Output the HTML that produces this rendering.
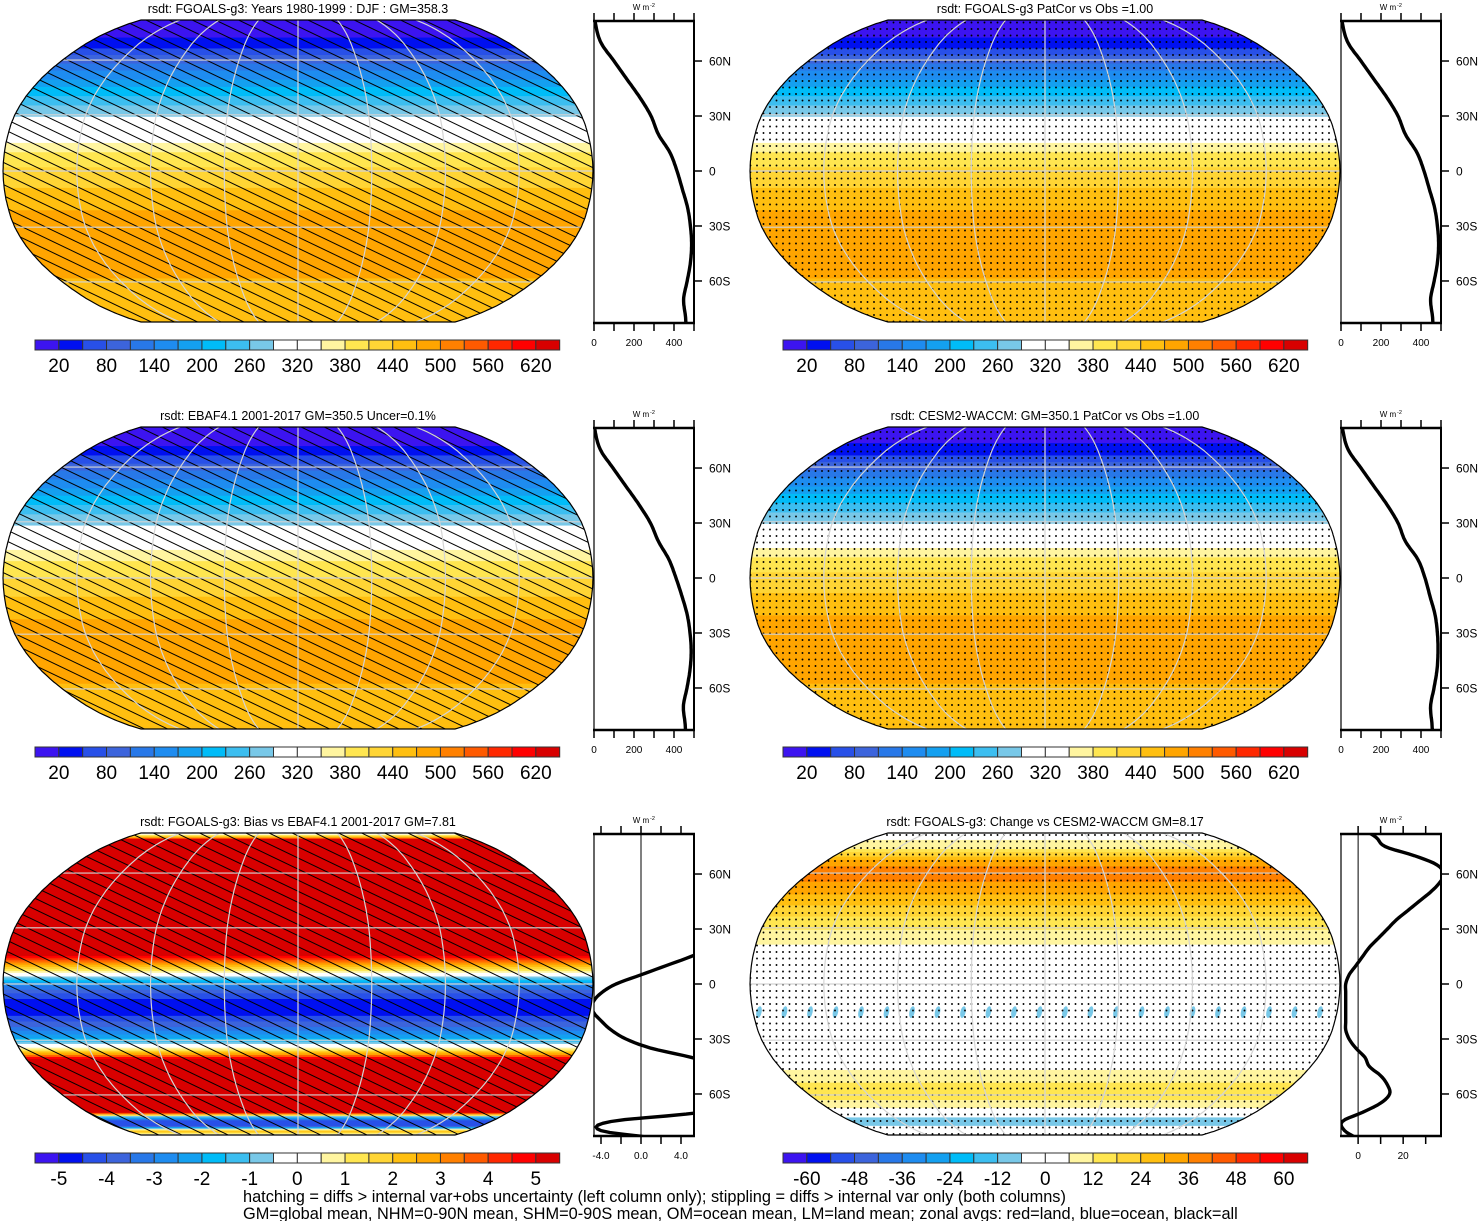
<!DOCTYPE html>
<html><head><meta charset="utf-8"><style>
html,body{margin:0;padding:0;background:#fff;}
svg{display:block;font-family:"Liberation Sans",sans-serif;}
</style></head><body>
<svg id="fig" width="1483" height="1221" viewBox="0 0 1483 1221" xmlns="http://www.w3.org/2000/svg">
<defs>
<pattern id="hatch" patternUnits="userSpaceOnUse" width="40" height="10" patternTransform="rotate(25.6)">
<line x1="0" y1="5" x2="40" y2="5" stroke="#000" stroke-width="1"/>
</pattern>
<pattern id="stip" patternUnits="userSpaceOnUse" width="6.5" height="6.5">
<circle cx="3" cy="3" r="0.95" fill="#000"/>
</pattern>
</defs>
<text x="243" y="1202" font-size="16.35">hatching = diffs &gt; internal var+obs uncertainty (left column only); stippling = diffs &gt; internal var only (both columns)</text>
<text x="243" y="1219" font-size="16.35">GM=global mean, NHM=0-90N mean, SHM=0-90S mean, OM=ocean mean, LM=land mean; zonal avgs: red=land, blue=ocean, black=all</text>
</svg>
<script>
// ---- data ----
const lat10 = [90,80,70,60,50,40,30,20,10,0,-10,-20,-30,-40,-50,-60,-70,-80,-90];
const lat5 = [90,85,80,75,70,65,60,55,50,45,40,35,30,25,20,15,10,5,0,-5,-10,-15,-20,-25,-30,-35,-40,-45,-50,-55,-60,-65,-70,-75,-80,-85,-90];
const fgoalsClim = [0,8,35,100,165,230,285,322,380,415,442,468,482,488,482,466,448,458,462];
const ebafClim   = [0,6,32,95,160,225,282,322,375,410,440,466,480,486,480,465,447,456,460];
const cesmClim   = [0,10,36,100,165,230,285,322,385,420,445,470,482,485,480,465,448,455,460];
const biasVals   = [0,2,8,8,8,8,8,8,8,8,8,8,8,8,7,5,2.5,0,-2.5,-4,-4.8,-4.8,-4,-3,-1.5,1,5,8,8,8,8,8,6,-3,-4,2,0];
const changeVals = [0,2,8,12,25,35,38,36,32,27,22,17,13,9,5,2,-1,-4,-5.5,-5.5,-5.5,-5.5,-5.5,-5.5,-4,-1,3,5,10,13,14,10,2,-7,-6,0,0];
const climLevels = [20,50,80,110,140,170,200,230,260,290,320,350,380,410,440,470,500,530,560,590,620];
const biasLevels = [-5,-4.5,-4,-3.5,-3,-2.5,-2,-1.5,-1,-0.5,0,0.5,1,1.5,2,2.5,3,3.5,4,4.5,5];
const changeLevels = [-60,-54,-48,-42,-36,-30,-24,-18,-12,-6,0,6,12,18,24,30,36,42,48,54,60];
const climLabels = ["20","80","140","200","260","320","380","440","500","560","620"];
const biasLabels = ["-5","-4","-3","-2","-1","0","1","2","3","4","5"];
const changeLabels = ["-60","-48","-36","-24","-12","0","12","24","36","48","60"];
const climTicks = [0,100,200,300,400,500];
const climTickLabels = [0,200,400];
const biasTicks = [-4,-2,0,2,4];
const biasTickLabels = ["-4.0","0.0","4.0"];
const changeTicks = [0,10,20,30];
const changeTickLabels = [0,20];
const latTicks = [60,30,0,-30,-60];
const latTickLabels = ["60N","30N","0","30S","60S"];
const titles = [
 "rsdt: FGOALS-g3: Years 1980-1999 : DJF : GM=358.3",
 "rsdt: FGOALS-g3 PatCor vs Obs =1.00",
 "rsdt: EBAF4.1 2001-2017 GM=350.5 Uncer=0.1%",
 "rsdt: CESM2-WACCM: GM=350.1 PatCor vs Obs =1.00",
 "rsdt: FGOALS-g3: Bias vs EBAF4.1 2001-2017 GM=7.81",
 "rsdt: FGOALS-g3: Change vs CESM2-WACCM GM=8.17"];
const colors = ["#3c14f0","#0010f0","#2850e8","#3c64dc","#2878e8","#1e8cf0","#14a0f0","#00bcf8","#3cbef0","#78c8e8","#ffffff","#ffffff","#fff5a0","#ffe650","#ffd535","#ffbf10","#ffa500","#ff8000","#ff5a00","#ff2800","#ff0000","#d80000"];

const NS="http://www.w3.org/2000/svg";
const svg=document.getElementById('fig');
function mk(tag,attrs,parent){const e=document.createElementNS(NS,tag);for(const k in attrs)e.setAttribute(k,attrs[k]);(parent||svg).appendChild(e);return e;}
function interp(xs,ys,x){
  const n=xs.length;
  for(let i=0;i<n-1;i++){
    if(x<=xs[i]&&x>=xs[i+1]){
      const t=(xs[i]-x)/(xs[i]-xs[i+1]);
      const p0=ys[Math.max(i-1,0)],p1=ys[i],p2=ys[i+1],p3=ys[Math.min(i+2,n-1)];
      const t2=t*t,t3=t2*t;
      return 0.5*((2*p1)+(-p0+p2)*t+(2*p0-5*p1+4*p2-p3)*t2+(-p0+3*p1-3*p2+p3)*t3);
    }
  }
  return ys[n-1];
}
const robX=[1,.9986,.9954,.99,.9822,.973,.96,.9427,.9216,.8962,.8679,.835,.7986,.7597,.7186,.6732,.6213,.5722,.5322];
const robY=[0,.062,.124,.186,.248,.310,.372,.434,.4958,.5571,.6176,.6769,.7346,.7903,.8435,.8936,.9394,.9761,1];
function tab(arr,lat){const a=Math.min(Math.abs(lat),90);const i=Math.min(Math.floor(a/5),17);const t=(a-i*5)/5;return arr[i]+(arr[i+1]-arr[i])*t;}
function hw(lat){return 295*tab(robX,lat);}
function yoff(lat){const v=151*tab(robY,lat);return lat>=0?-v:v;}
function colorFor(v,levels){let k=0;for(const l of levels){if(v>=l)k++;}return colors[k];}

const panels=[
 {col:0,row:0,lats:lat10,vals:fgoalsClim,levels:climLevels,labels:climLabels,ov:'hatch',dom:[0,500],ticks:climTicks,tl:climTickLabels,zero:false},
 {col:1,row:0,lats:lat10,vals:fgoalsClim,levels:climLevels,labels:climLabels,ov:'stip',dom:[0,500],ticks:climTicks,tl:climTickLabels,zero:false},
 {col:0,row:1,lats:lat10,vals:ebafClim,levels:climLevels,labels:climLabels,ov:'hatch',dom:[0,500],ticks:climTicks,tl:climTickLabels,zero:false},
 {col:1,row:1,lats:lat10,vals:cesmClim,levels:climLevels,labels:climLabels,ov:'stip',dom:[0,500],ticks:climTicks,tl:climTickLabels,zero:false},
 {col:0,row:2,lats:lat5,vals:biasVals,levels:biasLevels,labels:biasLabels,ov:'hatch',dom:[-4.7,5.3],ticks:biasTicks,tl:biasTickLabels,zero:true},
 {col:1,row:2,lats:lat5,vals:changeVals,levels:changeLevels,labels:changeLabels,ov:'stip',dom:[-7.6,36.8],ticks:changeTicks,tl:changeTickLabels,zero:true,spots:true}];
const rowTop=[20,427,833];

panels.forEach((p,pi)=>{
  const cx=298+p.col*747, top=rowTop[p.row], eq=top+151;
  const g=mk('g',{});
  
  
  const t=mk('text',{x:cx,y:top-7,'font-size':12.5,'text-anchor':'middle'},g);
  t.textContent=titles[pi];
  
  
  let d='';
  for(let la=90;la>=-90;la-=1){d+=(la===90?'M':'L')+(cx+hw(la)).toFixed(1)+','+(eq+yoff(la)).toFixed(1);}
  for(let la=-90;la<=90;la+=1){d+='L'+(cx-hw(la)).toFixed(1)+','+(eq+yoff(la)).toFixed(1);}
  d+='Z';
  const cp=mk('clipPath',{id:'clip'+pi},g); mk('path',{d:d},cp);
  const mg=mk('g',{'clip-path':'url(#clip'+pi+')'},g);
  
  
  for(let la=90;la>-90;la-=1){
    const v=interp(p.lats,p.vals,la-0.5);
    const y1=eq+yoff(la), y2=eq+yoff(la-1);
    mk('rect',{x:cx-300,y:y1.toFixed(2),width:600,height:(y2-y1+0.6).toFixed(2),fill:colorFor(v,p.levels)},mg);
  }
  if(p.spots){
    const sy=eq+yoff(-15);
    for(let x=cx-286;x<cx+290;x+=25.5){mk('ellipse',{cx:x,cy:sy,rx:2.6,ry:6,fill:'#78c8e8',transform:'rotate(12 '+x+' '+sy+')'},mg);}
  }
  mk('rect',{x:cx-300,y:top-2,width:600,height:308,fill:'url(#'+p.ov+')'},mg);
  [60,30,0,-30,-60].forEach(la=>{const y=eq+yoff(la);mk('line',{x1:cx-hw(la),y1:y,x2:cx+hw(la),y2:y,stroke:'#d4d4d4','stroke-width':1.2},mg);});
  for(let lon=-135;lon<=135;lon+=45){let pd='';for(let la=90;la>=-90;la-=2){pd+=(la===90?'M':'L')+(cx+hw(la)*lon/180).toFixed(1)+','+(eq+yoff(la)).toFixed(1);}mk('path',{d:pd,fill:'none',stroke:'#d4d4d4','stroke-width':1.2},mg);}
  mk('path',{d:d,fill:'none',stroke:'#000','stroke-width':1.2},g);
  const cbx=35+p.col*748, cby=top+320, cbw=23.85;
  const cb=mk('g',{},g);
  
  
  colors.forEach((c,i)=>{mk('rect',{x:cbx+i*cbw,y:cby,width:cbw,height:10,fill:c,stroke:'#333','stroke-width':1},cb);});
  p.labels.forEach((lb,i)=>{const tx=mk('text',{x:cbx+(2*i+1)*cbw,y:cby+32,'font-size':19,'text-anchor':'middle'},cb);tx.textContent=lb;});
  const bx0=594+p.col*747, bx1=bx0+100, by0=top+1, by1=top+303;
  const xs=v=>bx0+(v-p.dom[0])/(p.dom[1]-p.dom[0])*100;
  const ys=la=>eq-la*1.833;
  const zg=mk('g',{},g);
  
  
  const zc=mk('clipPath',{id:'zc'+pi},zg); mk('rect',{x:bx0,y:by0,width:100,height:by1-by0},zc);
  mk('line',{x1:bx0,y1:by0,x2:bx0,y2:by1,stroke:'#000','stroke-width':1.2},zg);
  if(p.zero){mk('line',{x1:xs(0),y1:by0,x2:xs(0),y2:by1,stroke:'#000','stroke-width':1},zg);}
  let lp='';
  for(let la=90;la>=-90;la-=1){const v=interp(p.lats,p.vals,la);lp+=(la===90?'M':'L')+xs(v).toFixed(1)+','+ys(la).toFixed(1);}
  const line=mk('path',{d:lp,fill:'none',stroke:'#000','stroke-width':3.4,'clip-path':'url(#zc'+pi+')','stroke-linejoin':'round'},zg);
  
  
  mk('line',{x1:bx1,y1:by0,x2:bx1,y2:by1,stroke:'#000','stroke-width':2},zg);
  mk('line',{x1:bx0-1,y1:by0,x2:bx1+1,y2:by0,stroke:'#000','stroke-width':2.5},zg);
  mk('line',{x1:bx0-1,y1:by1,x2:bx1+1,y2:by1,stroke:'#000','stroke-width':2.5},zg);
  p.ticks.forEach(v=>{const x=xs(v);mk('line',{x1:x,y1:by0,x2:x,y2:by0-8,stroke:'#000','stroke-width':1.5},zg);mk('line',{x1:x,y1:by1,x2:x,y2:by1+8,stroke:'#000','stroke-width':1.5},zg);});
  p.tl.forEach(v=>{const tx=mk('text',{x:xs(parseFloat(v)),y:by1+23,'font-size':10,'text-anchor':'middle'},zg);tx.textContent=v;});
  latTicks.forEach((la,i)=>{const y=ys(la);mk('line',{x1:bx1,y1:y,x2:bx1+8,y2:y,stroke:'#000','stroke-width':1.5},zg);const tx=mk('text',{x:bx1+15,y:y+4.5,'font-size':12},zg);tx.textContent=latTickLabels[i];});
  const u=mk('text',{x:bx0+47,y:by0-11,'font-size':8,'text-anchor':'middle'},zg);u.textContent='W m';
  const u2=mk('text',{x:bx0+56,y:by0-14,'font-size':5.5},zg);u2.textContent='-2';
});
</script>
</body></html>
